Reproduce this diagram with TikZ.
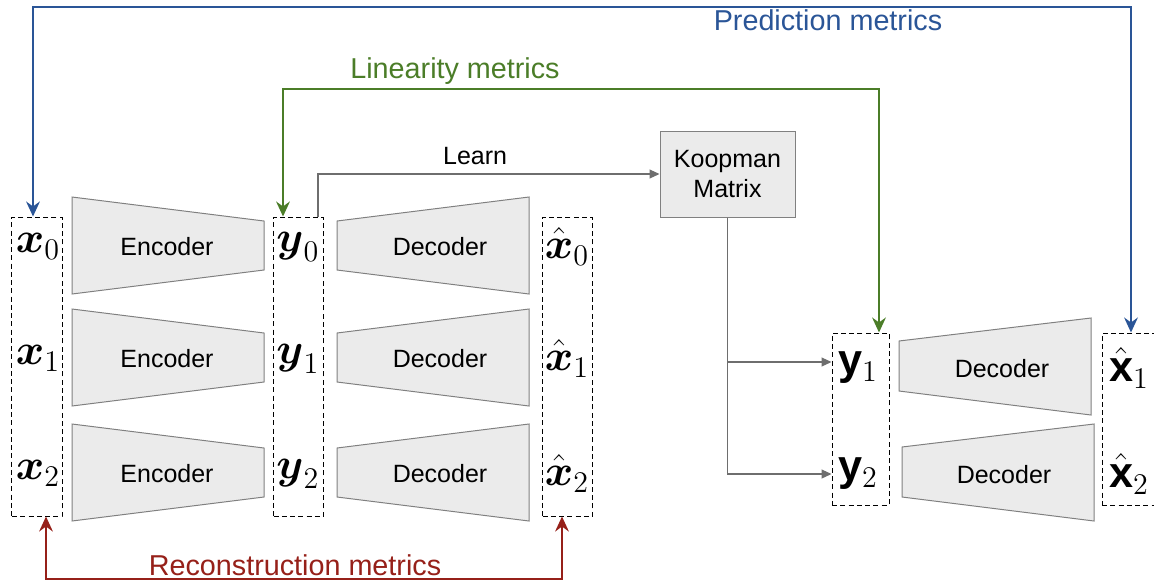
\documentclass[tikz,border=0pt]{standalone}
\usepackage{amsmath}
\usepackage{amssymb}
\usepackage{fontspec}
\setmainfont{Liberation Sans}
\usetikzlibrary{arrows.meta, calc}

\definecolor{predblue}{HTML}{2A5597}
\definecolor{lingreen}{HTML}{4B7D28}
\definecolor{recred}{HTML}{962019}
\definecolor{boxgray}{HTML}{EBEBEB}
\definecolor{edgegray}{HTML}{808080}
\definecolor{linkgray}{HTML}{6E6E6E}

\begin{document}
\begin{tikzpicture}[x=0.4pt, y=-0.4pt,
    dbox/.style={draw, dash pattern=on 2pt off 1.3pt, line width=0.4pt, inner sep=0pt},
    trap/.style={fill=boxgray, draw=edgegray, line width=0.4pt},
    lbl/.style={font=\LARGE, inner sep=0pt},
    link/.style={draw=linkgray, line width=0.45pt, -{Triangle[length=4pt,width=3.6pt]}},
    metric/.style={line width=0.8pt, {Stealth[length=6pt,width=5.5pt,inset=2pt]}-{Stealth[length=6pt,width=5.5pt,inset=2pt]}},
    mtext/.style={font=\fontsize{11.5}{13}\selectfont, inner sep=0pt}]
    \useasboundingbox (0,0) rectangle (1154,582);
    % Dashed columns
    \node[dbox, minimum width=20pt, minimum height=119.6pt] (xin) at (37,366.5) {};
    \node[dbox, minimum width=20pt, minimum height=119.6pt] (ylat) at (298.5,366.5) {};
    \node[dbox, minimum width=20pt, minimum height=119.6pt] (xrec) at (567.5,366.5) {};
    \node[dbox, minimum width=22.8pt, minimum height=68.8pt] (ypred) at (860.5,419) {};
    \node[dbox, minimum width=22.8pt, minimum height=68.8pt] (xpred) at (1130.5,419) {};
    % Autoencoder rows
    \foreach \i/\c in {0/245.5, 1/357.5, 2/472.5} {
        \filldraw[trap] (72,{\c-48.5}) -- (264,{\c-24.5}) -- (264,{\c+24.5}) -- (72,{\c+48.5}) -- cycle;
        \filldraw[trap] (337,{\c-24.5}) -- (529,{\c-48.5}) -- (529,{\c+48.5}) -- (337,{\c+24.5}) -- cycle;
        \node (enc\i) at (167,{\c+1.5}) {Encoder};
        \node (dec\i) at (440,{\c+1.5}) {Decoder};
        \node[lbl] (x\i) at (38,{\c+1}) {$\boldsymbol{x}_{\i}$};
        \node[lbl] (y\i) at (298,{\c+1}) {$\boldsymbol{y}_{\i}$};
        \node[lbl] (xh\i) at (567,{\c+1}) {$\hat{\boldsymbol{x}}_{\i}$};
    }
    % Koopman prediction
    \node[draw=edgegray, fill=boxgray, minimum width=54pt, minimum height=34.4pt, align=center, inner sep=0pt] (koop) at (727.5,174) {Koopman\\Matrix};
    \filldraw[trap] (899,341) -- (1091,318) -- (1091,415) -- (899,391) -- cycle;
    \filldraw[trap] (902,447) -- (1094,424) -- (1094,521) -- (902,497) -- cycle;
    \node (pdec1) at (1002,369) {Decoder};
    \node (pdec2) at (1004,475) {Decoder};
    \node[lbl] (yp1) at (858,368) {$\mathbf{y}_1$};
    \node[lbl] (yp2) at (858,474) {$\mathbf{y}_2$};
    \node[lbl] (xp1) at (1129,368) {$\hat{\mathbf{x}}_1$};
    \node[lbl] (xp2) at (1129,474) {$\hat{\mathbf{x}}_2$};
    \coordinate (lstart) at ([xshift=7.8pt]ylat.north);
    \draw[link] (lstart) |- node[pos=0.73, above] (learn) {Learn} (koop.west);
    \draw[link] (koop.south) |- (ypred.west |- 0,362);
    \draw[link] (koop.south) |- (ypred.west |- yp2);
    % Metrics
    \coordinate (ptop) at (0,7);
    \coordinate (pa) at ([xshift=-1.6pt]xin.north);
    \coordinate (pb) at ([xshift=0.2pt]xpred.north);
    \draw[metric, predblue] (pa) |- (ptop -| pb) -- (pb);
    \node[mtext, text=predblue] (predlbl) at (828,20) {Prediction metrics};
    \coordinate (gtop) at (0,89);
    \coordinate (ga) at ([xshift=-6.2pt]ylat.north);
    \coordinate (gb) at ([xshift=7.4pt]ypred.north);
    \draw[metric, lingreen] (ga) |- (gtop -| gb) -- (gb);
    \node[mtext, text=lingreen] (linlbl) at (455,71) {Linearity metrics};
    \coordinate (rbot) at (0,579);
    \coordinate (ra) at ([xshift=3.6pt]xin.south);
    \coordinate (rb) at ([xshift=-2.2pt]xrec.south);
    \draw[metric, recred] (ra) |- (rbot -| rb) -- (rb);
    \node[mtext, text=recred] (reclbl) at (295,565) {Reconstruction metrics};
\end{tikzpicture}
\end{document}
